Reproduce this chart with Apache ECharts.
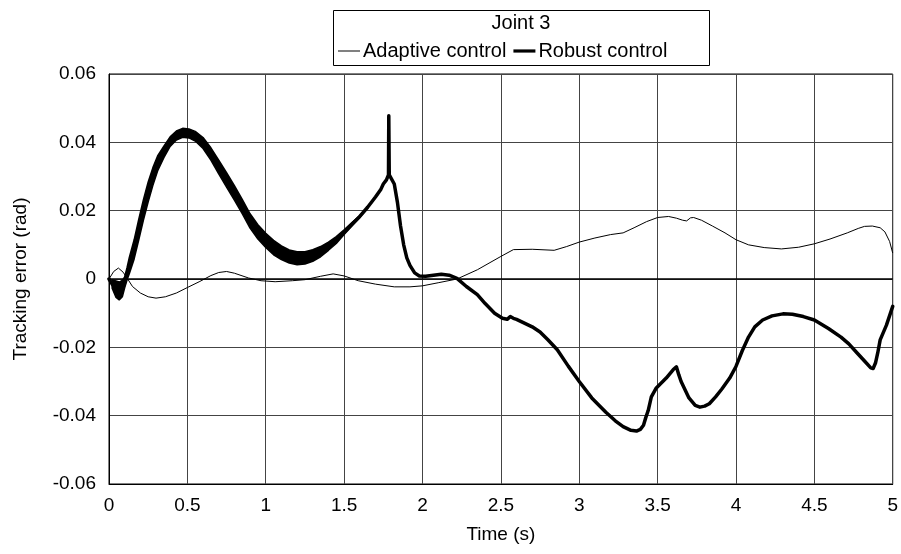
<!DOCTYPE html>
<html>
<head>
<meta charset="utf-8">
<script src="https://cdn.jsdelivr.net/npm/echarts@6/dist/echarts.min.js"></script>
<style>
html,body{margin:0;padding:0;background:#fff;}
#chart{width:901px;height:554px;}
</style>
</head>
<body>
<div id="chart"></div>
<script>
var chartTitle = 'Joint 3';
var xAxisName = 'Time (s)';
var yAxisName = 'Tracking error (rad)';
var seriesNames = ['Adaptive control', 'Robust control'];

var adaptiveT = [0,0.03,0.06,0.09,0.115,0.15,0.20,0.25,0.30,0.36,0.43,0.50,0.58,0.65,0.70,0.75,0.80,0.89,0.97,1.06,1.17,1.25,1.35,1.43,1.50,1.59,1.70,1.82,1.92,2.00,2.10,2.22,2.35,2.50,2.58,2.70,2.84,2.92,3.00,3.10,3.20,3.28,3.35,3.43,3.50,3.57,3.62,3.66,3.685,3.71,3.73,3.78,3.85,3.93,4.00,4.08,4.18,4.29,4.40,4.50,4.60,4.71,4.78,4.82,4.87,4.92,4.95,4.98,5.00];
var adaptiveV = [0,0.0022,0.0032,0.0020,0.0003,-0.0022,-0.0041,-0.0052,-0.0056,-0.0052,-0.0041,-0.0025,-0.0007,0.0010,0.0019,0.0022,0.0017,0.0003,-0.0005,-0.0008,-0.0005,-0.0002,0.0008,0.0015,0.0009,-0.0005,-0.0015,-0.0023,-0.0023,-0.0020,-0.0011,0.0000,0.0027,0.0066,0.0086,0.0087,0.0084,0.0095,0.0108,0.0120,0.0130,0.0135,0.0150,0.0168,0.0180,0.0183,0.0178,0.0172,0.0170,0.0179,0.0180,0.0172,0.0155,0.0135,0.0115,0.0100,0.0092,0.0088,0.0093,0.0103,0.0117,0.0135,0.0148,0.0154,0.0155,0.0150,0.0138,0.0110,0.0076];

var robustT = [0,0.02,0.045,0.065,0.085,0.10,0.115,0.13,0.16,0.19,0.22,0.25,0.28,0.31,0.35,0.39,0.43,0.47,0.51,0.55,0.60,0.65,0.70,0.75,0.80,0.85,0.90,0.95,1.00,1.05,1.10,1.15,1.20,1.25,1.30,1.35,1.40,1.45,1.50,1.55,1.60,1.65,1.70,1.735,1.75,1.77,1.783,1.785,1.788,1.80,1.82,1.84,1.86,1.88,1.90,1.92,1.95,1.98,2.02,2.07,2.12,2.17,2.22,2.28,2.35,2.40,2.46,2.51,2.54,2.56,2.58,2.60,2.65,2.70,2.75,2.80,2.86,2.93,3.00,3.08,3.17,3.23,3.28,3.33,3.365,3.39,3.41,3.425,3.44,3.46,3.49,3.555,3.60,3.62,3.635,3.65,3.70,3.74,3.77,3.80,3.83,3.87,3.91,3.96,4.00,4.04,4.08,4.12,4.17,4.23,4.30,4.36,4.43,4.50,4.59,4.67,4.72,4.77,4.82,4.86,4.875,4.89,4.905,4.92,4.96,5.00];
var robustV = [0,-0.0015,-0.0030,-0.0035,-0.0028,-0.0010,0.0015,0.0040,0.0086,0.0145,0.0203,0.0255,0.0300,0.0338,0.0372,0.0402,0.0420,0.0428,0.0426,0.0418,0.0398,0.0366,0.0328,0.0290,0.0252,0.0212,0.0170,0.0138,0.0113,0.0092,0.0077,0.0066,0.0061,0.0062,0.0069,0.0080,0.0096,0.0114,0.0137,0.0160,0.0183,0.0210,0.0240,0.0263,0.0278,0.0290,0.0305,0.0478,0.0305,0.0300,0.0278,0.0225,0.0155,0.0100,0.0062,0.0040,0.0018,0.0009,0.0008,0.0011,0.0014,0.0011,0.0002,-0.0022,-0.0046,-0.0072,-0.0100,-0.0115,-0.0118,-0.0110,-0.0115,-0.0118,-0.0129,-0.0140,-0.0155,-0.0178,-0.0207,-0.0255,-0.0300,-0.0348,-0.0390,-0.0415,-0.0432,-0.0443,-0.0445,-0.0440,-0.0428,-0.0405,-0.0385,-0.0345,-0.0320,-0.0290,-0.0265,-0.0257,-0.0280,-0.0300,-0.0348,-0.0370,-0.0375,-0.0372,-0.0365,-0.0345,-0.0322,-0.0290,-0.0256,-0.0210,-0.0170,-0.0140,-0.0120,-0.0108,-0.0102,-0.0103,-0.0110,-0.0120,-0.0145,-0.0170,-0.0190,-0.0215,-0.0240,-0.0260,-0.0262,-0.0246,-0.0215,-0.0178,-0.0135,-0.0080];

// half-width of the chattering band around the robust curve
var bandT    = [0.02,0.045,0.065,0.085,0.10,0.115,0.13,0.16,0.19,0.22,0.25,0.28,0.31,0.35,0.39,0.43,0.47,0.51,0.55,0.60,0.65,0.70,0.75,0.80,0.85,0.90,0.95,1.00,1.05,1.10,1.15,1.20,1.25,1.30,1.35,1.40,1.45,1.50,1.55,1.60,1.65];
var bandHalf = [0.0012,0.0024,0.0026,0.0024,0.0016,0.0018,0.0024,0.0028,0.0030,0.0030,0.0029,0.0026,0.0022,0.0017,0.0014,0.0013,0.0013,0.0013,0.0014,0.0016,0.0018,0.0020,0.0021,0.0021,0.0021,0.0021,0.0021,0.0021,0.0021,0.0020,0.0019,0.0019,0.0018,0.0017,0.0015,0.0012,0.0010,0.0007,0.0005,0.0003,0.0000];

function pairs(t, v) { return t.map(function (x, i) { return [x, v[i]]; }); }
var adaptiveData = pairs(adaptiveT, adaptiveV);
var robustData = pairs(robustT, robustV);
var bandCenter = bandT.map(function (t) { return robustV[robustT.indexOf(t)]; });
var bandUpper = bandT.map(function (t, i) { return [t, bandCenter[i] + bandHalf[i]]; });
var bandLower = bandT.map(function (t, i) { return [t, bandCenter[i] - bandHalf[i]]; });

var font = 'Liberation Sans, Arial, Helvetica, sans-serif';

var chart = echarts.init(document.getElementById('chart'), null, { renderer: 'canvas' });
chart.setOption({
  animation: false,
  backgroundColor: '#fff',
  textStyle: { fontFamily: font, color: '#000' },
  title: {
    text: chartTitle, left: 521, top: 13, textAlign: 'center', padding: 0,
    textStyle: { fontFamily: font, fontSize: 20, fontWeight: 'normal', color: '#000' }
  },
  legend: {
    data: [
      { name: seriesNames[0], icon: 'path://M0,0H22V1H0Z', itemStyle: { color: '#000', borderWidth: 0 } },
      { name: seriesNames[1], icon: 'path://M0,0H22V3.2H0Z', itemStyle: { color: '#000', borderWidth: 0 } }
    ],
    left: 338, top: 41, padding: 0, itemGap: 7,
    itemWidth: 22, itemHeight: 14, symbolKeepAspect: true,
    textStyle: { fontFamily: font, fontSize: 20, color: '#000', padding: [0, 0, 0, -2] }
  },
  graphic: [{
    type: 'rect', silent: true,
    shape: { x: 333.5, y: 10.5, width: 376, height: 55 },
    style: { fill: null, stroke: '#000', lineWidth: 1 }
  }],
  grid: {
    left: 109, right: 3, top: 74, bottom: 70, show: true,
    borderColor: '#000', borderWidth: 1, backgroundColor: 'transparent'
  },
  xAxis: {
    type: 'value', min: 0, max: 5, interval: 0.5,
    name: xAxisName, nameLocation: 'middle', nameGap: 41,
    nameTextStyle: { fontFamily: font, fontSize: 19, color: '#000' },
    axisLine: { show: true, onZero: false, lineStyle: { color: '#000' } },
    axisTick: { show: false },
    axisLabel: { fontFamily: font, fontSize: 19, color: '#000', margin: 12, formatter: function (v) { return String(Math.round(v * 10) / 10); } },
    splitLine: { show: true, lineStyle: { color: '#444', width: 1 } }
  },
  yAxis: {
    type: 'value', min: -0.06, max: 0.06, interval: 0.02,
    name: yAxisName, nameLocation: 'middle', nameGap: 79,
    nameTextStyle: { fontFamily: font, fontSize: 19, color: '#000' },
    axisLine: { show: true, lineStyle: { color: '#000' } },
    axisTick: { show: false },
    axisLabel: { fontFamily: font, fontSize: 19, color: '#000', margin: 13, formatter: function (v) { return String(Math.round(v * 100) / 100); } },
    splitLine: { show: true, lineStyle: { color: '#444', width: 1 } }
  },
  series: [
    {
      name: seriesNames[0], type: 'line', data: adaptiveData, symbol: 'none', showSymbol: false,
      lineStyle: { color: '#000', width: 1 }, itemStyle: { color: '#000' }, z: 3,
      markLine: {
        silent: true, symbol: 'none', label: { show: false },
        lineStyle: { color: '#000', width: 1.6, type: 'solid' },
        data: [{ yAxis: 0 }]
      }
    },
    {
      name: seriesNames[1], type: 'line', data: robustData, symbol: 'none', showSymbol: false,
      lineStyle: { color: '#000', width: 3.5, join: 'round', cap: 'round' }, itemStyle: { color: '#000' }, z: 5
    },
    {
      name: seriesNames[1], type: 'custom', silent: true, z: 4,
      data: [[bandT[0], bandCenter[0]]],
      renderItem: function (params, api) {
        var pts = bandUpper.map(function (p) { return api.coord(p); });
        var low = bandLower.slice().reverse().map(function (p) { return api.coord(p); });
        return {
          type: 'polygon',
          shape: { points: pts.concat(low) },
          style: { fill: '#000', stroke: '#000', lineWidth: 1.5, lineJoin: 'round' }
        };
      }
    }
  ]
});
</script>
</body>
</html>
